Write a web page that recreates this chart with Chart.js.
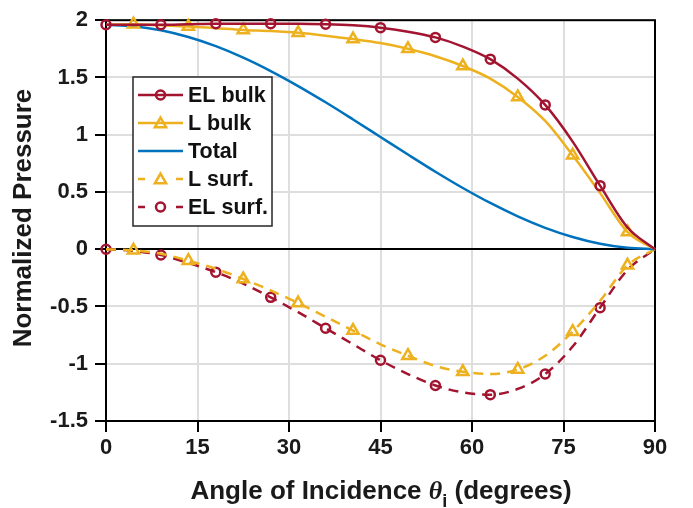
<!DOCTYPE html>
<html>
<head>
<meta charset="utf-8">
<script src="https://cdn.jsdelivr.net/npm/chart.js@4.4.0/dist/chart.umd.min.js"></script>
<style>
  html, body { margin: 0; padding: 0; background: #fff; }
  #wrap { width: 693px; height: 508px; }
</style>
</head>
<body>
<div id="wrap"><canvas id="myChart" width="693" height="508"></canvas></div>
<script>
// angle of incidence, degrees
const angles = [0, 4.5, 9, 13.5, 18, 22.5, 27, 31.5, 36, 40.5, 45, 49.5, 54, 58.5, 63, 67.5, 72, 76.5, 81, 85.5, 90];

const elBulk = [1.96, 1.96, 1.96, 1.965, 1.97, 1.97, 1.97, 1.97, 1.965, 1.955, 1.935, 1.90, 1.85, 1.77, 1.66, 1.49, 1.26, 0.94, 0.555, 0.19, 0];
const lBulk  = [1.96, 1.965, 1.955, 1.945, 1.93, 1.915, 1.905, 1.89, 1.865, 1.835, 1.80, 1.75, 1.685, 1.60, 1.49, 1.33, 1.12, 0.82, 0.49, 0.15, 0];
const total  = [1.96, 1.948, 1.912, 1.853, 1.773, 1.673, 1.556, 1.425, 1.283, 1.133, 0.98, 0.827, 0.677, 0.535, 0.404, 0.287, 0.187, 0.107, 0.048, 0.012, 0];
const lSurf  = [0, -0.01, -0.04, -0.10, -0.17, -0.26, -0.36, -0.47, -0.59, -0.71, -0.83, -0.93, -1.02, -1.07, -1.09, -1.05, -0.93, -0.72, -0.45, -0.14, 0];
const elSurf = [0, -0.015, -0.05, -0.12, -0.20, -0.30, -0.42, -0.55, -0.69, -0.83, -0.97, -1.09, -1.19, -1.25, -1.27, -1.22, -1.09, -0.85, -0.51, -0.18, 0];

// where the markers sit
const circleAt = [0, 9, 18, 27, 36, 45, 54, 63, 72, 81];
const triangleAt = [4.5, 13.5, 22.5, 31.5, 40.5, 49.5, 58.5, 67.5, 76.5, 85.5];

const xTicks = [0, 15, 30, 45, 60, 75, 90];
const yTicks = [-1.5, -1, -0.5, 0, 0.5, 1, 1.5, 2];

const RED = '#A2142F';
const YEL = '#EDB120';
const BLUE = '#0072BD';
const FONT = '"Liberation Sans", Arial, Helvetica, sans-serif';
const LW = 2.5;

function pts(arr) {
    return angles.map((a, i) => ({ x: a, y: arr[i] }));
}
function radii(list, r) {
    return angles.map(a => list.includes(a) ? r : 0);
}

function series(label, arr, color, style, list, r, dashed) {
    return {
        label: label,
        data: pts(arr),
        borderColor: color,
        borderWidth: LW,
        borderDash: dashed ? [10, 7] : [],
        pointStyle: style,
        pointRadius: list ? radii(list, r) : 0,
        pointBorderColor: color,
        pointBackgroundColor: 'rgba(0,0,0,0)',
        pointBorderWidth: LW,
        pointHoverRadius: 0,
        cubicInterpolationMode: 'monotone',
        fill: false,
        clip: false
    };
}

// axes box drawn under the lines
const boxPlugin = {
    id: 'box',
    beforeDatasetsDraw(chart) {
        const { ctx, chartArea: a } = chart;
        ctx.save();
        ctx.strokeStyle = '#000';
        ctx.lineWidth = 2;
        ctx.strokeRect(a.left, a.top, a.right - a.left, a.bottom - a.top);
        ctx.restore();
    }
};

// axis titles and the legend
const decoPlugin = {
    id: 'deco',
    afterDraw(chart) {
        const ctx = chart.ctx;
        ctx.save();
        ctx.fillStyle = '#1a1a1a';

        // y title
        ctx.save();
        ctx.translate(24, 218);
        ctx.rotate(-Math.PI / 2);
        ctx.font = 'bold 26px ' + FONT;
        ctx.textAlign = 'center';
        ctx.textBaseline = 'middle';
        ctx.fillText('Normalized Pressure', 0, 0);
        ctx.restore();

        // x title with theta_i
        const parts = [
            { t: 'Angle of Incidence ', f: 'bold 26px ' + FONT, dy: 0 },
            { t: 'θ', f: 'italic bold 26px "Liberation Serif", serif', dy: 0 },
            { t: 'i', f: 'bold 18px ' + FONT, dy: 8 },
            { t: ' (degrees)', f: 'bold 26px ' + FONT, dy: 0 }
        ];
        let w = 0;
        parts.forEach(p => { ctx.font = p.f; p.w = ctx.measureText(p.t).width; w += p.w; });
        let x = 381 - w / 2;
        ctx.textAlign = 'left';
        ctx.textBaseline = 'alphabetic';
        parts.forEach(p => {
            ctx.font = p.f;
            ctx.fillText(p.t, x, 499 + p.dy);
            x += p.w;
        });

        // legend
        const L = { x: 133, y: 77, w: 139, h: 149 };
        ctx.fillStyle = '#fff';
        ctx.fillRect(L.x, L.y, L.w, L.h);
        ctx.strokeStyle = '#262626';
        ctx.lineWidth = 1.5;
        ctx.strokeRect(L.x, L.y, L.w, L.h);

        const items = [
            { label: 'EL bulk', color: RED, mark: 'circle', dashed: false },
            { label: 'L bulk', color: YEL, mark: 'triangle', dashed: false },
            { label: 'Total', color: BLUE, mark: null, dashed: false },
            { label: 'L surf.', color: YEL, mark: 'triangle', dashed: true },
            { label: 'EL surf.', color: RED, mark: 'circle', dashed: true }
        ];
        items.forEach((it, i) => {
            const y = 95 + i * 28;
            ctx.strokeStyle = it.color;
            ctx.lineWidth = LW;
            ctx.setLineDash(it.dashed ? [7, 31] : []);
            ctx.beginPath();
            ctx.moveTo(138, y);
            ctx.lineTo(183, y);
            ctx.stroke();
            ctx.setLineDash([]);
            if (it.mark === 'circle') {
                ctx.beginPath();
                ctx.arc(160.5, y, 4.5, 0, Math.PI * 2);
                ctx.stroke();
            } else if (it.mark === 'triangle') {
                const r = 6.5;
                ctx.beginPath();
                for (let k = 0; k < 3; k++) {
                    const ang = -Math.PI / 2 + k * 2 * Math.PI / 3;
                    const px = 160.5 + r * Math.cos(ang);
                    const py = y + 1 + r * Math.sin(ang);
                    if (k === 0) ctx.moveTo(px, py); else ctx.lineTo(px, py);
                }
                ctx.closePath();
                ctx.stroke();
            }
            ctx.fillStyle = '#111';
            ctx.font = 'bold 21.5px ' + FONT;
            ctx.textAlign = 'left';
            ctx.textBaseline = 'middle';
            ctx.fillText(it.label, 188, y + 1);
        });
        ctx.restore();
    }
};

const ctx = document.getElementById('myChart');

new Chart(ctx, {
    type: 'line',
    data: {
        datasets: [
            series('EL bulk', elBulk, RED, 'circle', circleAt, 4.5, false),
            series('L bulk', lBulk, YEL, 'triangle', triangleAt, 6.5, false),
            series('Total', total, BLUE, 'circle', null, 0, false),
            series('L surf.', lSurf, YEL, 'triangle', triangleAt, 6.5, true),
            series('EL surf.', elSurf, RED, 'circle', circleAt, 4.5, true)
        ]
    },
    options: {
        responsive: false,
        animation: false,
        events: [],
        layout: { padding: { top: 14, right: 38, left: 0, bottom: 0 } },
        plugins: {
            legend: { display: false },
            tooltip: { enabled: false }
        },
        scales: {
            x: {
                type: 'linear',
                min: 0,
                max: 90,
                afterBuildTicks: s => { s.ticks = xTicks.map(v => ({ value: v })); },
                afterFit: s => { s.height = 87; },
                ticks: {
                    color: '#1a1a1a',
                    font: { family: FONT, size: 22, weight: 'bold' },
                    padding: 3,
                    maxRotation: 0,
                    callback: v => String(v)
                },
                grid: {
                    color: '#dedede',
                    lineWidth: 2,
                    tickColor: '#000',
                    tickLength: 11,
                    tickWidth: 2
                },
                border: { color: '#000', width: 2 }
            },
            y: {
                min: -1.5,
                max: 2,
                afterBuildTicks: s => { s.ticks = yTicks.map(v => ({ value: v })); },
                afterFit: s => { s.width = 106; },
                ticks: {
                    color: '#1a1a1a',
                    font: { family: FONT, size: 22, weight: 'bold' },
                    padding: 7,
                    callback: v => String(v)
                },
                grid: {
                    color: c => c.tick && c.tick.value === 0 ? '#000' : '#dedede',
                    lineWidth: 2,
                    tickColor: '#000',
                    tickLength: 11,
                    tickWidth: 2
                },
                border: { color: '#000', width: 2 }
            }
        }
    },
    plugins: [boxPlugin, decoPlugin]
});
</script>
</body>
</html>
